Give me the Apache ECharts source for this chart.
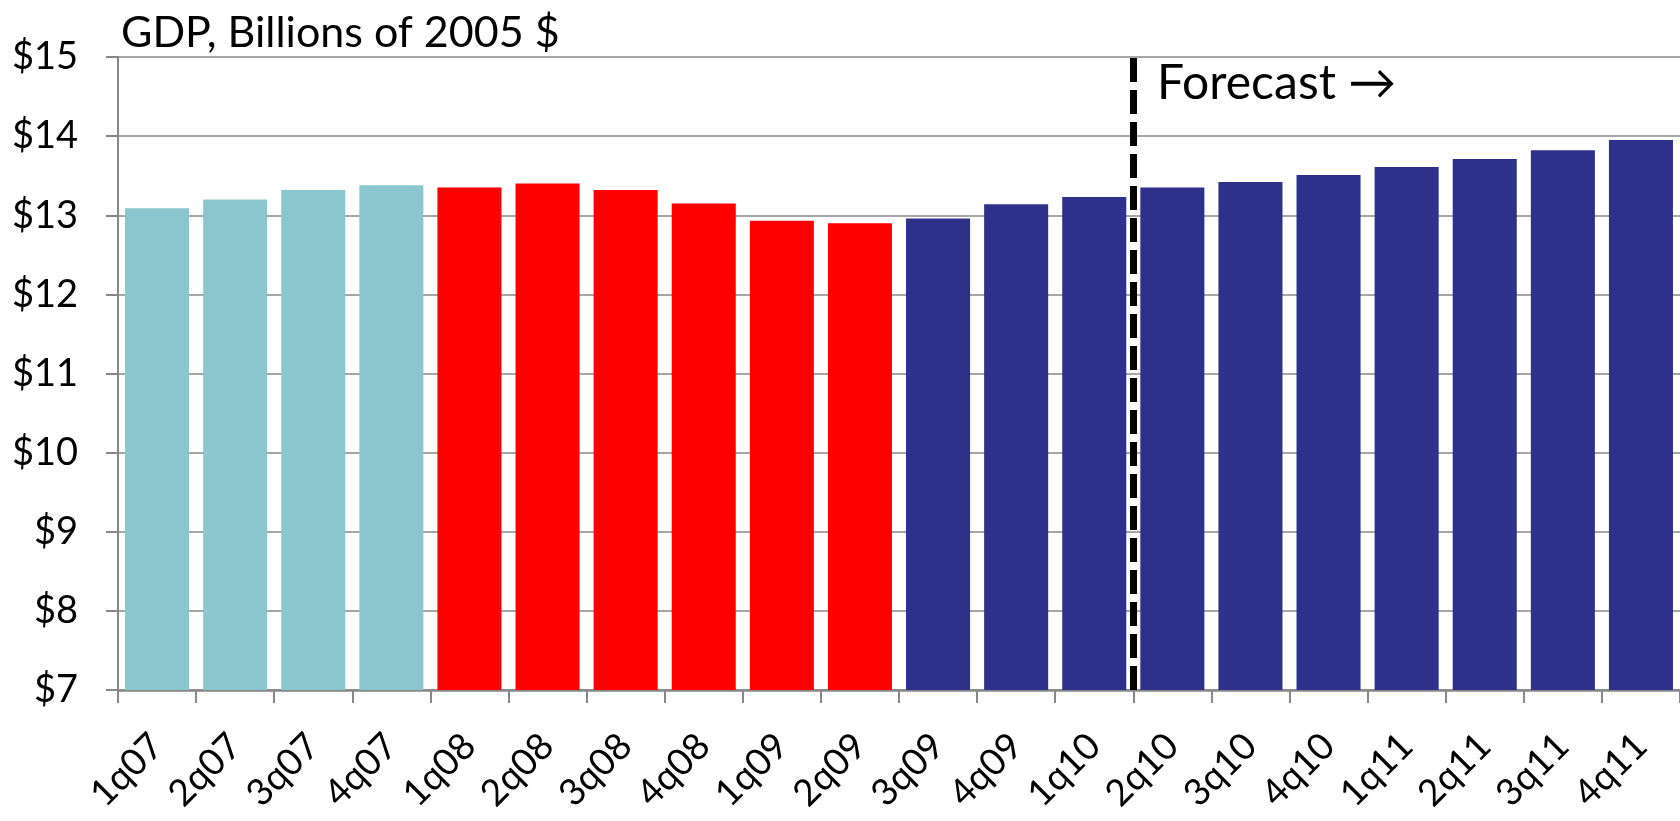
<!DOCTYPE html>
<html>
<head>
<meta charset="utf-8">
<title>GDP</title>
<script src="https://cdn.jsdelivr.net/npm/echarts@6/dist/echarts.min.js"></script>
<style>
  html, body { margin: 0; padding: 0; background: #fff; }
  #gdp { width: 1680px; height: 821px; }
</style>
</head>
<body>
<div id="gdp"></div>
<script>
// quarters on the x axis
var quarters = ['1q07','2q07','3q07','4q07','1q08','2q08','3q08','4q08','1q09','2q09',
                '3q09','4q09','1q10','2q10','3q10','4q10','1q11','2q11','3q11','4q11'];
// real GDP, trillions shown as $ on the axis
var gdp = [13.09, 13.20, 13.32, 13.38, 13.35, 13.40, 13.32, 13.15, 12.93, 12.90,
           12.96, 13.14, 13.23, 13.35, 13.42, 13.51, 13.61, 13.71, 13.82, 13.95];
// which phase each quarter belongs to (sets the bar colour)
var phase = ['pre','pre','pre','pre','rec','rec','rec','rec','rec','rec',
             'post','post','post','post','post','post','post','post','post','post'];
var phaseColor = { pre: '#8BC6CE', rec: '#FF0000', post: '#2E3089' };
// forecast starts at the boundary before this category index
var forecastStart = 13;
var yMin = 7, yMax = 15, yStep = 1;

var chart = echarts.init(document.getElementById('gdp'));

var barData = gdp.map(function (v, i) {
    return { value: v, itemStyle: { color: phaseColor[phase[i]] } };
});

var option = {
    animation: false,
    textStyle: { fontFamily: 'Lato' },
    title: {
        text: 'GDP, Billions of 2005 $',
        left: 116,
        top: 7,
        textStyle: { fontFamily: 'Lato', fontSize: 43, fontWeight: 'normal', color: '#000' }
    },
    grid: { left: 118, right: 0, top: 57, bottom: 131, containLabel: false },
    xAxis: [
        {
            type: 'category',
            data: quarters,
            axisLine: { lineStyle: { color: '#888', width: 2.5 } },
            axisTick: { show: true, length: 13, lineStyle: { color: '#888', width: 2 } },
            axisLabel: { rotate: 45, margin: 50, fontSize: 37, color: '#000', interval: 0 }
        },
        {
            // hidden linear axis so the forecast line can sit between two quarters
            type: 'value',
            min: 0,
            max: quarters.length,
            show: false
        }
    ],
    yAxis: {
        type: 'value',
        min: yMin,
        max: yMax,
        interval: yStep,
        axisLine: { show: true, lineStyle: { color: '#888', width: 2 } },
        axisTick: { show: true, length: 12, lineStyle: { color: '#888', width: 2 } },
        splitLine: { lineStyle: { color: '#A6A6A6', width: 2 } },
        axisLabel: {
            margin: 40,
            fontSize: 38,
            color: '#000',
            formatter: function (v) { return '$' + v; }
        }
    },
    series: [
        {
            type: 'bar',
            data: barData,
            barCategoryGap: '18%'
        },
        {
            type: 'line',
            xAxisIndex: 1,
            data: [],
            silent: true,
            markLine: {
                symbol: 'none',
                silent: true,
                label: { show: false },
                lineStyle: { color: '#000', width: 7, type: [24, 8] },
                data: [[{ coord: [forecastStart, yMin] }, { coord: [forecastStart, yMax] }]]
            }
        }
    ],
    graphic: [
        {
            type: 'text',
            left: 1157,
            top: 60,
            style: { text: 'Forecast \u2192', font: '48px Lato', fill: '#000' }
        }
    ]
};

chart.setOption(option);
</script>
</body>
</html>
